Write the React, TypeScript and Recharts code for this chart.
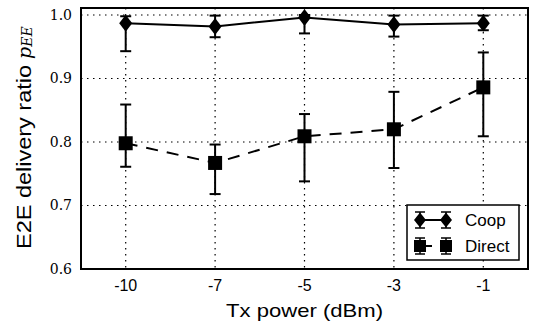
import React from 'react';
import {
  CartesianGrid,
  ComposedChart,
  ErrorBar,
  Line,
  ReferenceArea,
  XAxis,
  YAxis,
} from 'recharts';

const txPower = ['-10', '-7', '-5', '-3', '-1'];

const coopMean = [0.987, 0.982, 0.996, 0.985, 0.987];
const coopLow = [0.943, 0.965, 0.971, 0.966, 0.976];
const coopHigh = [0.998, 0.999, 1.0, 0.999, 0.999];

const directMean = [0.798, 0.767, 0.809, 0.82, 0.886];
const directLow = [0.761, 0.718, 0.738, 0.759, 0.809];
const directHigh = [0.859, 0.796, 0.844, 0.879, 0.941];

const yTicks = [0.6, 0.7, 0.8, 0.9, 1.0];
const xTicks = [0, 1, 2, 3, 4];

const data = txPower.map((label, i) => ({
  x: i,
  label,
  coop: coopMean[i],
  coopErr: [coopMean[i] - coopLow[i], coopHigh[i] - coopMean[i]],
  direct: directMean[i],
  directErr: [directMean[i] - directLow[i], directHigh[i] - directMean[i]],
}));

const SANS = '"Liberation Sans", Arial, sans-serif';
const SERIF = '"DejaVu Serif", serif';

const DiamondDot = (props: any) => {
  const { cx, cy, index } = props;
  if (cx == null || cy == null) return null;
  return (
    <polygon
      key={`dia-${index}`}
      points={`${cx},${cy - 8.5} ${cx + 6.5},${cy} ${cx},${cy + 8.5} ${cx - 6.5},${cy}`}
      fill="#000"
    />
  );
};

const SquareDot = (props: any) => {
  const { cx, cy, index } = props;
  if (cx == null || cy == null) return null;
  return <rect key={`sq-${index}`} x={cx - 7} y={cy - 7} width={14} height={14} fill="#000" />;
};

const XTick = ({ x, y, payload }: any) => (
  <text x={x} y={y} dy={22} textAnchor="middle" fontFamily={SANS} fontSize={16} fill="#000">
    {txPower[payload.value]}
  </text>
);

const YTick = ({ x, y, payload }: any) => (
  <text x={x - 9} y={y} dy={5} textAnchor="end" fontFamily={SERIF} fontSize={14} fill="#000">
    {Number(payload.value).toFixed(1)}
  </text>
);

const XLabel = ({ viewBox }: any) => {
  const cx = viewBox.x + viewBox.width / 2;
  return (
    <text
      x={cx}
      y={viewBox.y + 47.5}
      textAnchor="middle"
      fontFamily={SANS}
      fontSize={19}
      fill="#000"
      textLength={157}
      lengthAdjust="spacingAndGlyphs"
    >
      Tx power (dBm)
    </text>
  );
};

const YLabel = ({ viewBox }: any) => {
  const bottom = viewBox.y + viewBox.height - 20;
  return (
    <g>
      <text
        transform={`translate(31, ${bottom}) rotate(-90)`}
        fontFamily={SANS}
        fontSize={20}
        fill="#000"
        textLength={184}
        lengthAdjust="spacingAndGlyphs"
      >
        E2E delivery ratio
      </text>
      <text transform={`translate(31, ${bottom - 190}) rotate(-90)`} fontFamily={SERIF} fill="#000">
        <tspan fontStyle="italic" fontSize={19}>p</tspan>
        <tspan fontStyle="italic" fontSize={14} dy={1}>EE</tspan>
      </text>
    </g>
  );
};

const LegendBox = () => (
  <svg
    width={536}
    height={325}
    style={{ position: 'absolute', left: 0, top: 0, pointerEvents: 'none' }}
  >
    <rect x={407} y={205} width={112} height={55} fill="#fff" stroke="#000" strokeWidth={1.5} />
    {/* Coop */}
    <line x1={420} y1={220} x2={446} y2={220} stroke="#000" strokeWidth={2} />
    {[420, 446].map((cx) => (
      <g key={`lc-${cx}`}>
        <line x1={cx} y1={212} x2={cx} y2={228} stroke="#000" strokeWidth={1.5} />
        <line x1={cx - 5} y1={212} x2={cx + 5} y2={212} stroke="#000" strokeWidth={1.5} />
        <line x1={cx - 5} y1={228} x2={cx + 5} y2={228} stroke="#000" strokeWidth={1.5} />
        <polygon points={`${cx},${220 - 7.5} ${cx + 6},220 ${cx},${220 + 7.5} ${cx - 6},220`} fill="#000" />
      </g>
    ))}
    <text x={465} y={226} fontFamily={SANS} fontSize={17} fill="#000">Coop</text>
    {/* Direct */}
    <line x1={420} y1={246} x2={446} y2={246} stroke="#000" strokeWidth={2} strokeDasharray="12 9" />
    {[420, 446].map((cx) => (
      <g key={`ld-${cx}`}>
        <line x1={cx} y1={238} x2={cx} y2={254} stroke="#000" strokeWidth={1.5} />
        <line x1={cx - 5} y1={238} x2={cx + 5} y2={238} stroke="#000" strokeWidth={1.5} />
        <line x1={cx - 5} y1={254} x2={cx + 5} y2={254} stroke="#000" strokeWidth={1.5} />
        <rect x={cx - 6} y={240} width={12} height={12} fill="#000" />
      </g>
    ))}
    <text x={465} y={252} fontFamily={SANS} fontSize={17} fill="#000">Direct</text>
  </svg>
);

export default function App() {
  return (
    <div style={{ position: 'absolute', left: 0, top: 0, width: 536, height: 325, background: '#fff' }}>
      <ComposedChart width={536} height={325} data={data} margin={{ top: 8, right: 8, bottom: 0, left: 0 }}>
        <CartesianGrid stroke="#000" strokeWidth={1.2} strokeDasharray="1.5 4.5" />
        <XAxis
          dataKey="x"
          type="number"
          domain={[-0.5, 4.5]}
          ticks={xTicks}
          allowDataOverflow
          axisLine={false}
          tickLine={false}
          tickSize={0}
          tickMargin={0}
          height={56}
          tick={<XTick />}
          label={(p: any) => <XLabel {...p} />}
        />
        <YAxis
          type="number"
          domain={[0.6, 1.011]}
          ticks={yTicks}
          allowDataOverflow
          axisLine={false}
          tickLine={false}
          tickSize={0}
          tickMargin={0}
          width={81}
          tick={<YTick />}
          label={(p: any) => <YLabel {...p} />}
        />
        <ReferenceArea x1={-0.5} x2={4.5} y1={0.6} y2={1.011} fill="none" stroke="#000" strokeWidth={2} />
        <Line
          dataKey="coop"
          stroke="#000"
          strokeWidth={2}
          dot={DiamondDot}
          activeDot={false}
          isAnimationActive={false}
        >
          <ErrorBar dataKey="coopErr" width={5.5} stroke="#000" strokeWidth={2} direction="y" isAnimationActive={false} />
        </Line>
        <Line
          dataKey="direct"
          stroke="#000"
          strokeWidth={2}
          strokeDasharray="12 9"
          dot={SquareDot}
          activeDot={false}
          isAnimationActive={false}
        >
          <ErrorBar dataKey="directErr" width={5.5} stroke="#000" strokeWidth={2} direction="y" isAnimationActive={false} />
        </Line>
      </ComposedChart>
      <LegendBox />
    </div>
  );
}
